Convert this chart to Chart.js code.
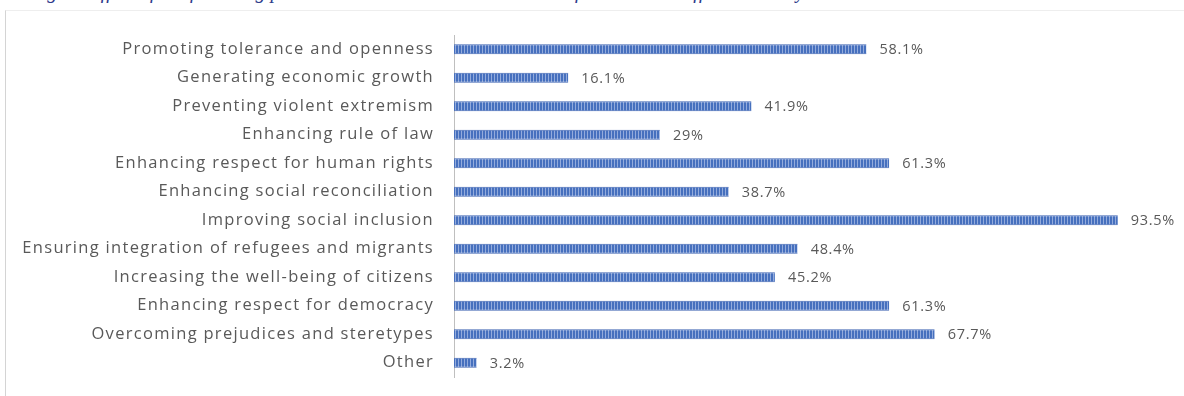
<!DOCTYPE html>
<html>
<head>
<meta charset="utf-8">
<script src="https://cdn.jsdelivr.net/npm/chart.js@4.4.1/dist/chart.umd.min.js"></script>
<style>
  html, body { margin: 0; padding: 0; background: #ffffff; }
  #wrap { position: relative; width: 1184px; height: 396px; overflow: hidden; }
  #caption {
    position: absolute; left: 4px; top: -21px; white-space: nowrap;
    font: italic 20px/24px "Liberation Serif", serif; color: #2f3c8c;
  }
  #frame {
    position: absolute; left: 5px; top: 10px; width: 1200px; height: 400px;
    border-left: 1px solid #d4d4d4; border-top: 1px solid #eeeeee;
  }
  canvas { position: absolute; left: 0; top: 0; }
</style>
</head>
<body>
<div id="wrap">
  <div id="caption">Rating the effect of the following policies/activities on the dimensions of the cultural offer in the city</div>
  <div id="frame"></div>
  <canvas id="chart" width="1184" height="396"></canvas>
</div>
<script>
// Survey answers, share of respondents (%)
const categories = [
  'Promoting tolerance and openness',
  'Generating economic growth',
  'Preventing violent extremism',
  'Enhancing rule of law',
  'Enhancing respect for human rights',
  'Enhancing social reconciliation',
  'Improving social inclusion',
  'Ensuring integration of refugees and migrants',
  'Increasing the well-being of citizens',
  'Enhancing respect for democracy',
  'Overcoming prejudices and steretypes',
  'Other'
];
const shares = [58.1, 16.1, 41.9, 29, 61.3, 38.7, 93.5, 48.4, 45.2, 61.3, 67.7, 3.2];
const valueLabels = shares.map(v => v + '%');

// vertical-stripe fill for the bars
function stripePattern() {
  const c = document.createElement('canvas');
  c.width = 3; c.height = 8;
  const g = c.getContext('2d');
  g.fillStyle = '#4670be';
  g.fillRect(0, 0, 3, 8);
  g.fillStyle = '#93abdc';
  g.fillRect(2, 0, 1, 8);
  return g.createPattern(c, 'repeat');
}

const spacing = {
  id: 'spacing',
  beforeDraw(chart) { chart.ctx.letterSpacing = '1.3px'; }
};

const valueText = {
  id: 'valueText',
  afterDatasetsDraw(chart) {
    const ctx = chart.ctx;
    const meta = chart.getDatasetMeta(0);
    ctx.save();
    ctx.letterSpacing = '0.7px';
    ctx.font = '14.5px "Open Sans"';
    ctx.fillStyle = '#595959';
    ctx.textAlign = 'left';
    ctx.textBaseline = 'middle';
    meta.data.forEach((bar, i) => {
      ctx.fillText(valueLabels[i], bar.x + 13, bar.y + 1);
    });
    ctx.restore();
  }
};

new Chart(document.getElementById('chart'), {
  type: 'bar',
  data: {
    labels: categories,
    datasets: [{
      data: shares,
      backgroundColor: stripePattern(),
      borderColor: '#4066b4',
      borderWidth: { top: 1, bottom: 1, left: 0, right: 0 },
      borderSkipped: 'left',
      categoryPercentage: 1,
      barPercentage: 0.35
    }]
  },
  options: {
    indexAxis: 'y',
    responsive: false,
    animation: false,
    events: [],
    layout: { padding: { top: 35, bottom: 19, right: 20, left: 0 } },
    plugins: { legend: { display: false }, tooltip: { enabled: false } },
    scales: {
      x: { display: false, min: 0, max: 100 },
      y: {
        grid: { display: false, drawTicks: false },
        border: { display: true, color: '#bfbfbf', width: 1 },
        afterFit(scale) {
          scale.width = 454;
          scale.paddingTop = 0;
          scale.paddingBottom = 0;
        },
        ticks: {
          padding: 20,
          color: '#595959',
          font: { family: '"Open Sans"', size: 16.5 }
        }
      }
    }
  },
  plugins: [spacing, valueText]
});
</script>
</body>
</html>
